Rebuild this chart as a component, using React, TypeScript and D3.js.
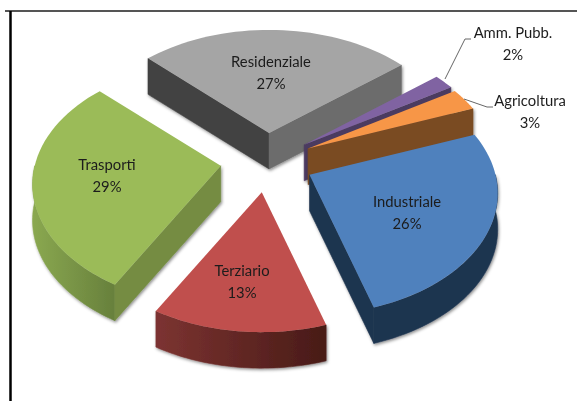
import React from "react";
import * as d3 from "d3";

const categories = ["Residenziale", "Amm. Pubb.", "Agricoltura", "Industriale", "Terziario", "Trasporti"];
const values = [27, 2, 3, 26, 13, 29];
const topColors = ["#a5a5a5", "#8064a2", "#f79646", "#4f81bd", "#c0504d", "#9bbb59"];
const startWallColors = ["#424242", "#4b3a60", "#7a4c22", "#1f3550", "#4a1c18", "#748c43"];
const endWallColors = ["#6c6c6c", "#4b3a60", "#7a4c22", "#1f3550", "#4a1c18", "#748c43"];
const outerGradients: [string, string][] = [
  ["#555555", "#555555"], ["#4b3a60", "#4b3a60"], ["#7a4c22", "#7a4c22"],
  ["#1f3550", "#1f3550"], ["#7c3331", "#481b17"], ["#8aa850", "#67803c"],
];
const drawOrder = [0, 1, 2, 5, 3, 4];
const labelPos: [number, number][] = [[271, 62], [513, 33], [530, 101], [407, 202], [242, 271], [107, 165]];

const W = 577, H = 401;
const cx = 267, cy = 161.5;
const R = 186, F = 118.7, K = 0.152, depth = 36, explode = 0.25;

const project = (x: number, y: number): [number, number] => {
  const s = 1 + K * y;
  return [(R * x) / s, (-F * y) / s];
};
const rad = (a: number) => (a * Math.PI) / 180;
const pie = d3.pie<number>().sort(null).startAngle(rad(-46)).endAngle(rad(314));
const arcs = pie(values);
const line = d3.line();
const sampler = (a0: number, a1: number) => d3.range(0, 41).map((i) => a0 + ((a1 - a0) * i) / 40);

export default function App() {
  const slices = drawOrder.map((i) => {
    const a = arcs[i];
    const mid = (a.startAngle + a.endAngle) / 2;
    const e = project(explode * Math.sin(mid), explode * Math.cos(mid));
    const apex: [number, number] = [cx + e[0], cy + e[1]];
    const at = (t: number): [number, number] => {
      const p = project(Math.sin(t), Math.cos(t));
      return [apex[0] + p[0], apex[1] + p[1]];
    };
    const down = (p: [number, number]): [number, number] => [p[0], p[1] + depth];
    const top = [apex, ...sampler(a.startAngle, a.endAngle).map(at)];
    const wall = (t: number) => [apex, at(t), down(at(t)), down(apex)] as [number, number][];
    const startVisible = Math.cos(a.startAngle - Math.PI / 2) < 0;
    const endVisible = Math.cos(a.endAngle + Math.PI / 2) < 0;
    const o0 = Math.max(a.startAngle, Math.PI / 2);
    const o1 = Math.min(a.endAngle, (3 * Math.PI) / 2);
    const outerPts = o1 > o0 ? sampler(o0, o1).map(at) : [];
    const outer = [...outerPts, ...outerPts.slice().reverse().map(down)];
    const xs = outerPts.map((p) => p[0]);
    return { i, top, start: wall(a.startAngle), end: wall(a.endAngle), startVisible, endVisible, outer,
      gx0: d3.min(xs) ?? 0, gx1: d3.max(xs) ?? 1 };
  });

  return (
    <svg width={W} height={H} style={{ position: "absolute", left: 0, top: 0, background: "#fff" }}>
      <defs>
        <filter id="soft" x="-5%" y="-5%" width="110%" height="110%">
          <feGaussianBlur stdDeviation="0.55" />
        </filter>
        <filter id="shadow" x="-10%" y="-10%" width="120%" height="120%">
          <feDropShadow dx="1" dy="1.5" stdDeviation="1.5" floodColor="#000" floodOpacity="0.45" />
        </filter>
        {slices.map((s) => (
          <linearGradient key={s.i} id={`g${s.i}`} gradientUnits="userSpaceOnUse" x1={s.gx0} x2={s.gx1} y1={0} y2={0}>
            <stop offset="0" stopColor={outerGradients[s.i][0]} />
            <stop offset="1" stopColor={outerGradients[s.i][1]} />
          </linearGradient>
        ))}
      </defs>
      <line x1={5} x2={W} y1={11} y2={11} stroke="#555" strokeWidth={2} />
      <line x1={10.5} x2={10.5} y1={11} y2={H} stroke="#000" strokeWidth={2.5} />
      <g filter="url(#soft)">
        {slices.map((s) => (
          <g key={s.i}>
            <g filter="url(#shadow)">
              {s.outer.length > 0 && <path d={line(s.outer) + "Z"} fill={`url(#g${s.i})`} stroke={`url(#g${s.i})`} strokeWidth={0.6} />}
              {s.startVisible && <path d={line(s.start) + "Z"} fill={startWallColors[s.i]} stroke={startWallColors[s.i]} strokeWidth={0.6} />}
              {s.endVisible && <path d={line(s.end) + "Z"} fill={endWallColors[s.i]} stroke={endWallColors[s.i]} strokeWidth={0.6} />}
            </g>
            <path d={line(s.top) + "Z"} fill={topColors[s.i]} />
          </g>
        ))}
        <path d="M445,79L465,39L471,39" fill="none" stroke="#666" strokeWidth={1} />
        <path d="M464,99L487,107L493,107" fill="none" stroke="#666" strokeWidth={1} />
        <g fontFamily="Lato" fontSize={14.8} fill="#1c1c1c" textAnchor="middle">
          {categories.map((c, i) => (
            <g key={c}>
              <text x={labelPos[i][0]} y={labelPos[i][1] + 5}>{c}</text>
              <text x={labelPos[i][0]} y={labelPos[i][1] + 27}>{values[i]}%</text>
            </g>
          ))}
        </g>
      </g>
    </svg>
  );
}
